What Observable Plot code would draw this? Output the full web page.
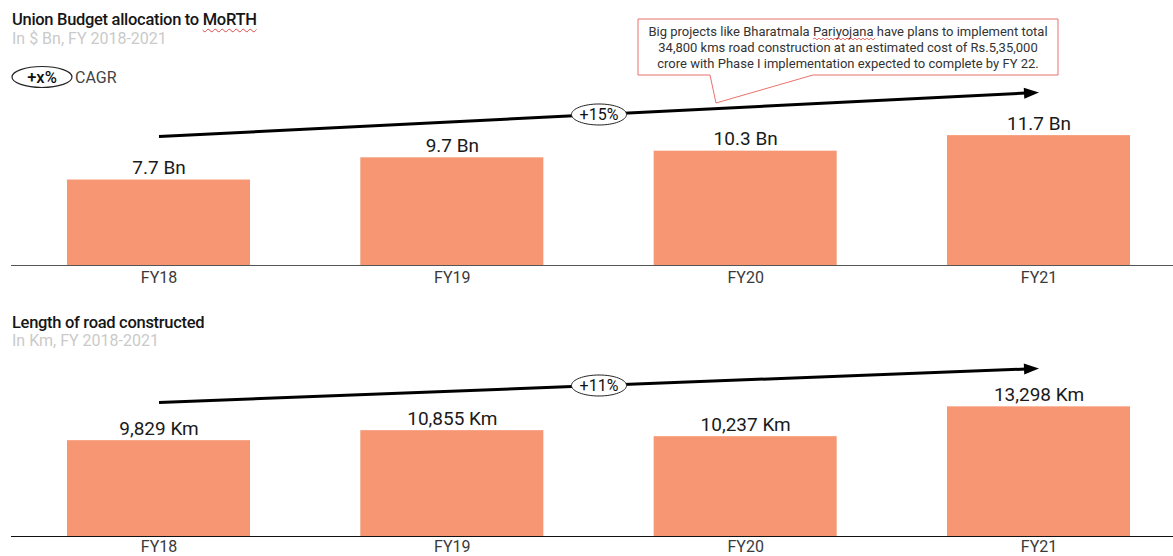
<!DOCTYPE html>
<html>
<head>
<meta charset="utf-8">
<script src="https://cdn.jsdelivr.net/npm/d3@7"></script>
<script src="https://cdn.jsdelivr.net/npm/@observablehq/plot@0.6"></script>
<style>
  body { margin: 0; background: #fff; font-family: Roboto, "Open Sans", sans-serif; }
  #page { position: relative; width: 1173px; height: 556px; overflow: hidden; }
  .abs { position: absolute; white-space: nowrap; }
  .title { font-size: 16.5px; line-height: 18px; font-weight: 500; color: #161616; letter-spacing: -0.3px; }
  .sub { font-size: 16px; line-height: 18px; color: #cacaca; }
  .spell { text-decoration: underline wavy #e04848; text-decoration-thickness: 1px; text-underline-offset: 3px; }
  svg { overflow: visible; }
</style>
</head>
<body>
<div id="page"></div>
<script>
// Fiscal years shown on both panels
const categories = ["FY18", "FY19", "FY20", "FY21"];
// Union Budget allocation to MoRTH, $ Bn
const budgetBn = [7.7, 9.7, 10.3, 11.7];
// Length of road constructed, Km
const roadKm = [9829, 10855, 10237, 13298];
// Compound annual growth over the period
const budgetCagr = "+15%";
const roadCagr = "+11%";
// Callout text
const noteLines = [
  "Big projects like Bharatmala Pariyojana have plans to implement total",
  "34,800 kms road construction at an estimated cost of Rs.5,35,000",
  "crore with Phase I implementation expected to complete by FY 22."
];

const BAR = "#F79673";
const page = document.getElementById("page");

// Ellipse symbol (used for the CAGR badges)
const ellipse = (rx, ry) => ({
  draw(ctx) {
    const k = 0.5523;
    ctx.moveTo(rx, 0);
    ctx.bezierCurveTo(rx, ry * k, rx * k, ry, 0, ry);
    ctx.bezierCurveTo(-rx * k, ry, -rx, ry * k, -rx, 0);
    ctx.bezierCurveTo(-rx, -ry * k, -rx * k, -ry, 0, -ry);
    ctx.bezierCurveTo(rx * k, -ry, rx, -ry * k, rx, 0);
    ctx.closePath();
  }
});
// Filled arrowhead with its tip at the origin, pointing along +x
const arrowHead = {
  draw(ctx) {
    ctx.moveTo(0, 0);
    ctx.lineTo(-15, -5.5);
    ctx.lineTo(-15, 5.5);
    ctx.closePath();
  }
};

function panel({values, fmt, cagr, trend, height, baseline, pxPerUnit, yMax, ruleColor, tickPadding}) {
  const rows = values.map((v, i) => ({i, v, cat: categories[i]}));
  const xRange = [158.5, 1038.5];
  const yRange = [baseline, baseline - yMax * pxPerUnit];
  // angle of the trend arrow in screen space
  const dxPx = xRange[1] - xRange[0];
  const dyPx = (trend[1] - trend[0]) * pxPerUnit;
  const angle = -Math.atan2(dyPx, dxPx) * 180 / Math.PI;
  const t = 0.985; // stop the shaft just short of the tip
  const shaft = [{x1: 0, y1: trend[0], x2: 3 * t, y2: trend[0] + (trend[1] - trend[0]) * t}];
  const mid = {x: 1.5, y: (trend[0] + trend[1]) / 2, label: cagr};
  return Plot.plot({
    width: 1173,
    height,
    marginLeft: 11,
    marginRight: 0,
    marginTop: 0,
    marginBottom: height - baseline,
    style: {fontFamily: "Roboto, sans-serif", background: "transparent"},
    x: {type: "linear", domain: [0, 3], range: xRange, axis: null},
    y: {domain: [0, yMax], range: yRange, axis: null},
    marks: [
      Plot.rectY(rows, {x1: d => d.i - 0.312, x2: d => d.i + 0.312, y: "v", fill: BAR}),
      Plot.ruleY([0], {stroke: ruleColor, strokeWidth: 1.2}),
      Plot.axisX({ticks: [0, 1, 2, 3], tickFormat: i => categories[i], tickSize: 0, tickPadding,
                  fontSize: 16, fill: "#3a3a3a", label: null}),
      Plot.text(rows, {x: "i", y: "v", text: d => fmt(d.v), dy: -6, lineAnchor: "bottom",
                       fontSize: 19, fill: "#1a1a1a"}),
      Plot.link(shaft, {x1: "x1", y1: "y1", x2: "x2", y2: "y2", stroke: "#000", strokeWidth: 3}),
      Plot.dot([{x: 3, y: trend[1]}], {x: "x", y: "y", symbol: arrowHead, fill: "#000", stroke: "none", rotate: angle}),
      Plot.dot([mid], {x: "x", y: "y", symbol: ellipse(27.5, 10.5), fill: "#fff", stroke: "#222", strokeWidth: 1}),
      Plot.text([mid], {x: "x", y: "y", text: "label", fontSize: 16, fill: "#111"})
    ]
  });
}

const topPanel = panel({
  values: budgetBn,
  fmt: v => `${v.toFixed(1)} Bn`,
  cagr: budgetCagr,
  trend: [11.62, 15.59],
  height: 300, baseline: 265, pxPerUnit: 11.1, yMax: 16, ruleColor: "#555", tickPadding: 6
});
topPanel.style.position = "absolute"; topPanel.style.left = "0px"; topPanel.style.top = "0px";
page.appendChild(topPanel);

const bottomPanel = panel({
  values: roadKm,
  fmt: v => `${d3.format(",")(v)} Km`,
  cagr: roadCagr,
  trend: [13744, 17231],
  height: 256, baseline: 236, pxPerUnit: 0.00975, yMax: 18000, ruleColor: "#111", tickPadding: 4
});
bottomPanel.style.position = "absolute"; bottomPanel.style.left = "0px"; bottomPanel.style.top = "300px";
page.appendChild(bottomPanel);

// Titles
function addText(html, cls, left, topPx) {
  const d = document.createElement("div");
  d.className = "abs " + cls;
  d.style.left = left + "px";
  d.style.top = topPx + "px";
  d.innerHTML = html;
  page.appendChild(d);
}
addText('Union Budget allocation to <span class="spell">MoRTH</span>', "title", 12, 11);
addText("In $ Bn, FY 2018-2021", "sub", 12, 30);
addText("Length of road constructed", "title", 12, 314);
addText("In Km, FY 2018-2021", "sub", 12, 332);

// Legend and callout overlay
const ov = d3.select(page).append("svg")
  .attr("width", 1173).attr("height", 556)
  .style("position", "absolute").style("left", 0).style("top", 0)
  .style("pointer-events", "none")
  .style("font-family", "Roboto, sans-serif");

ov.append("ellipse").attr("cx", 42).attr("cy", 77).attr("rx", 30).attr("ry", 10.5)
  .attr("fill", "none").attr("stroke", "#222").attr("stroke-width", 1.2);
ov.append("text").attr("x", 42).attr("y", 77).attr("dy", "0.35em").attr("text-anchor", "middle")
  .attr("font-size", 16.5).attr("font-weight", 500).attr("fill", "#111").text("+x%");
ov.append("text").attr("x", 75).attr("y", 77).attr("dy", "0.35em")
  .attr("font-size", 16).attr("fill", "#444").text("CAGR");

ov.append("path")
  .attr("d", "M638,19H1058V75H813L716,103L710,75H638Z")
  .attr("fill", "#fff").attr("stroke", "#E8736C").attr("stroke-width", 1);
const note = ov.append("text").attr("text-anchor", "middle").attr("font-size", 13).attr("fill", "#333");
let flagged = null;
noteLines.forEach((line, k) => {
  const tline = note.append("tspan").attr("x", 848).attr("y", 31 + k * 16).attr("dy", "0.35em");
  if (line.includes("Pariyojana")) {
    const [a, b] = line.split("Pariyojana");
    tline.append("tspan").text(a);
    flagged = tline.append("tspan").text("Pariyojana");
    tline.append("tspan").text(b);
    flagged.datum(31 + k * 16);
  } else {
    tline.text(line);
  }
});

// Wavy spell-check underline beneath the flagged word
if (flagged) {
  const node = flagged.node();
  const start = node.getStartPositionOfChar(0).x;
  const len = node.getComputedTextLength();
  const yLine = flagged.datum() + 8;
  let d = `M${start},${yLine}`;
  for (let x = start, up = true; x < start + len; x += 2, up = !up) {
    d += `L${x + 2},${yLine + (up ? -1 : 1)}`;
  }
  ov.append("path").attr("d", d).attr("fill", "none").attr("stroke", "#e04848").attr("stroke-width", 0.8);
}
</script>
</body>
</html>
